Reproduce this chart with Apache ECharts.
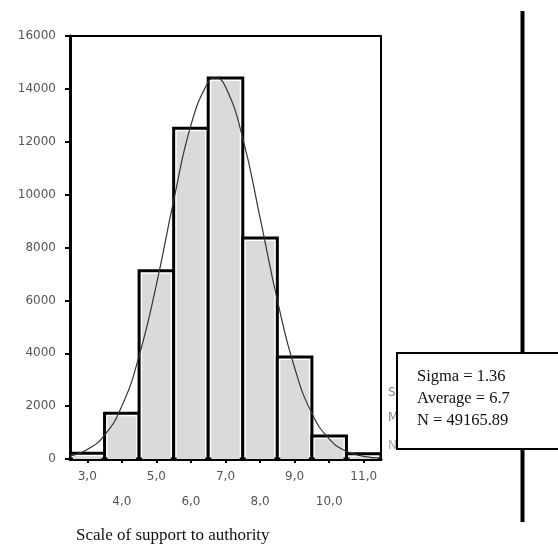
<!DOCTYPE html>
<html>
<head>
<meta charset="utf-8">
<script src="https://cdn.jsdelivr.net/npm/echarts@6/dist/echarts.min.js"></script>
<style>
html,body{margin:0;padding:0;background:#fff;}
#chart{width:558px;height:547px;}
</style>
</head>
<body>
<div id="chart"></div>
<script>
// Histogram bins (bin centres) and counts
var binCenters = [3, 4, 5, 6, 7, 8, 9, 10, 11];
var binCounts  = [220, 1730, 7120, 12510, 14410, 8360, 3860, 870, 200];
var binWidth = 1;

// Fitted curve points
var curveX = [2.5, 3.0, 3.5, 4.0, 4.5, 5.0, 5.5, 6.0, 6.5, 6.7, 7.0, 7.5, 8.0, 8.5, 9.0, 9.5, 10.0, 10.5, 11.0, 11.5];
var curveY = [120, 360, 900, 2000, 3900, 6600, 9770, 12630, 14270, 14420, 14080, 12130, 9130, 6010, 3450, 1730, 760, 290, 100, 30];

// Tick labels
var xTickValues = [3, 4, 5, 6, 7, 8, 9, 10, 11];
var xTickLabels = ['3,0', '4,0', '5,0', '6,0', '7,0', '8,0', '9,0', '10,0', '11,0'];
var yTickLabels = ['0', '2000', '4000', '6000', '8000', '10000', '12000', '14000', '16000'];

var xTitle = 'Scale of support to authority';
var statsLines = ['Sigma = 1.36', 'Average = 6.7', 'N = 49165.89'];
var hiddenLines = ['Std. Dev = 1,36', 'Mean = 6,7', 'N = 49165,89'];

var chart = echarts.init(document.getElementById('chart'), null, {renderer: 'canvas'});

var histData = binCenters.map(function (c, i) { return [c, binCounts[i]]; });
var curveData = curveX.map(function (x, i) { return [x, curveY[i]]; });

var option = {
  animation: false,
  backgroundColor: '#fff',
  grid: {
    left: 70, right: 177, top: 36, bottom: 88,
    show: true, borderColor: '#000', borderWidth: 2, backgroundColor: 'transparent'
  },
  xAxis: {
    type: 'value', min: 2.5, max: 11.5,
    name: xTitle, nameLocation: 'start',
    nameGap: 0,
    nameTextStyle: {
      fontFamily: 'Liberation Serif', fontSize: 17, color: '#111',
      align: 'left', verticalAlign: 'top', padding: [68, 0, 0, 6]
    },
    splitLine: {show: false},
    axisLine: {show: true, onZero: false, lineStyle: {color: '#000', width: 3}},
    axisTick: {show: true, customValues: xTickValues, length: 4, lineStyle: {color: '#000', width: 2}},
    axisLabel: {
      show: true, customValues: xTickValues, margin: 5,
      fontFamily: 'DejaVu Sans', fontSize: 12, color: '#555', lineHeight: 25,
      formatter: function (v) {
        var i = xTickValues.indexOf(v);
        var s = i >= 0 ? xTickLabels[i] : '';
        return (i % 2 === 1) ? '\n' + s : s;
      }
    }
  },
  yAxis: {
    type: 'value', min: 0, max: 16000, interval: 2000,
    splitLine: {show: false},
    axisLine: {show: true, lineStyle: {color: '#000', width: 3}},
    axisTick: {show: true, length: 5, lineStyle: {color: '#000', width: 2}},
    axisLabel: {
      margin: 14, fontFamily: 'DejaVu Sans', fontSize: 12, color: '#555',
      formatter: function (v) { return yTickLabels[Math.round(v / 2000)]; }
    }
  },
  series: [
    {
      type: 'custom',
      data: histData,
      z: 2,
      clip: true,
      renderItem: function (params, api) {
        var c = api.value(0), v = api.value(1);
        var pl = api.coord([c - binWidth / 2, 0]);
        var pr = api.coord([c + binWidth / 2, v]);
        var cs = params.coordSys;
        var left = Math.max(pl[0], cs.x);
        var right = Math.min(pr[0], cs.x + cs.width);
        var top = pr[1], bottom = pl[1];
        return {
          type: 'group',
          children: [
            {type: 'rect', shape: {x: left, y: top, width: right - left, height: bottom - top},
             style: {fill: '#fff', stroke: '#000', lineWidth: 3}},
            {type: 'rect', shape: {x: left + 3, y: top + 3, width: right - left - 6, height: bottom - top - 3},
             style: {fill: '#dadada'}}
          ]
        };
      }
    },
    {
      type: 'line',
      data: curveData,
      smooth: true,
      showSymbol: false,
      symbol: 'none',
      z: 5,
      lineStyle: {color: '#333', width: 1.2}
    }
  ],
  graphic: [
    // partially hidden original legend
    {type: 'text', left: 388, top: 387, z: 10, style: {text: hiddenLines[0], fontFamily: 'DejaVu Sans', fontSize: 12, fill: '#888'}},
    {type: 'text', left: 388, top: 412, z: 10, style: {text: hiddenLines[1], fontFamily: 'DejaVu Sans', fontSize: 12, fill: '#888'}},
    {type: 'text', left: 388, top: 440, z: 10, style: {text: hiddenLines[2], fontFamily: 'DejaVu Sans', fontSize: 12, fill: '#aaa'}},
    // vertical rule
    {type: 'rect', z: 15, shape: {x: 520.5, y: 11, width: 4, height: 511}, style: {fill: '#000'}},
    // stats box
    {type: 'rect', z: 20, shape: {x: 397, y: 353, width: 170, height: 96}, style: {fill: '#fff', stroke: '#000', lineWidth: 2}},
    {type: 'text', z: 21, left: 417, top: 368, style: {text: statsLines[0], fontFamily: 'Liberation Serif', fontSize: 16.5, fill: '#111'}},
    {type: 'text', z: 21, left: 417, top: 390, style: {text: statsLines[1], fontFamily: 'Liberation Serif', fontSize: 16.5, fill: '#111'}},
    {type: 'text', z: 21, left: 417, top: 412, style: {text: statsLines[2], fontFamily: 'Liberation Serif', fontSize: 16.5, fill: '#111'}}
  ]
};
chart.setOption(option);
</script>
</body>
</html>
